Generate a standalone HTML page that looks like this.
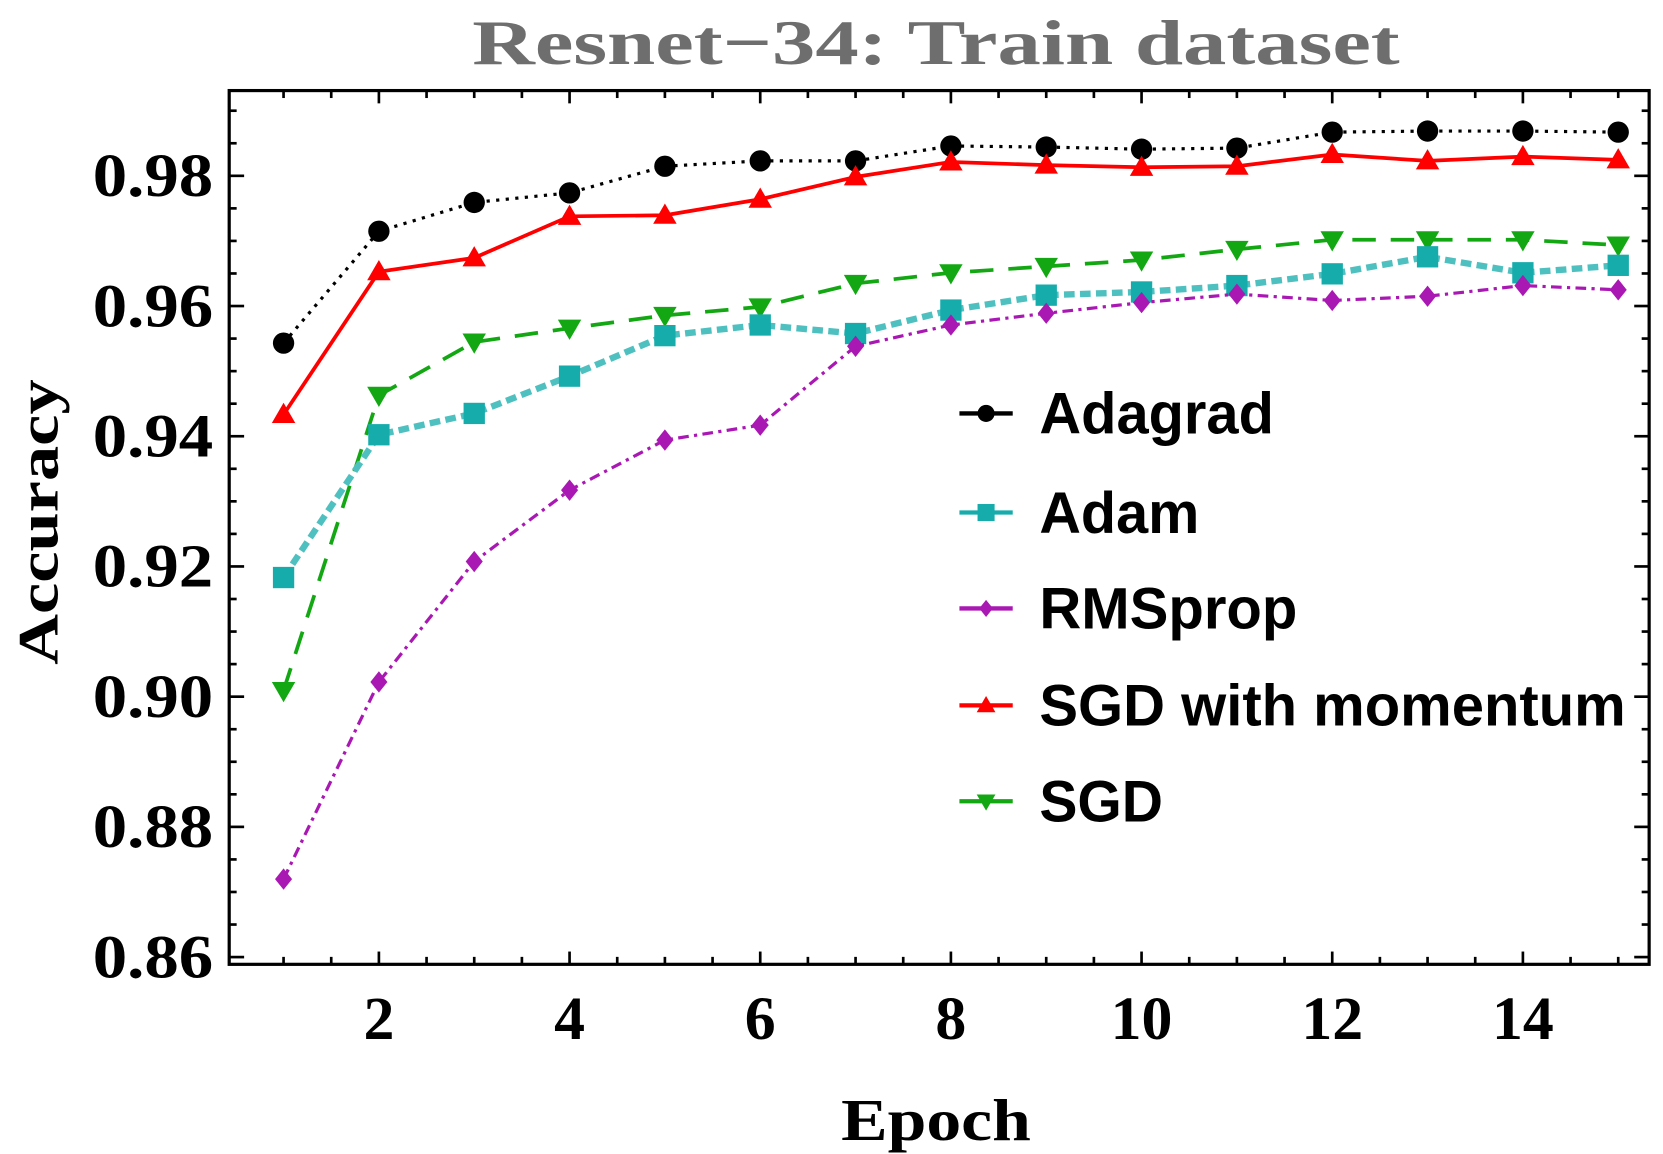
<!DOCTYPE html>
<html><head><meta charset="utf-8"><style>html,body{margin:0;padding:0;background:#fff}svg{display:block}</style></head>
<body>
<svg id="s" width="1663" height="1154" viewBox="0 0 1560 1083" preserveAspectRatio="none" xmlns="http://www.w3.org/2000/svg">
<rect width="1560" height="1083" fill="#fff"/>
<text x="878" y="60" text-anchor="middle" font-family="Liberation Serif, serif" font-weight="bold" font-size="60" fill="#6e6e6e" textLength="870" lengthAdjust="spacingAndGlyphs">Resnet−34: Train dataset</text>
<g id="frame"></g>
<g id="series"></g>
<g font-family="Liberation Sans, sans-serif" font-weight="bold" font-size="55" fill="#000">
<text x="975" y="407" textLength="220" lengthAdjust="spacingAndGlyphs">Adagrad</text>
<text x="975" y="500" textLength="150" lengthAdjust="spacingAndGlyphs">Adam</text>
<text x="975" y="590" textLength="242" lengthAdjust="spacingAndGlyphs">RMSprop</text>
<text x="975" y="681" textLength="550" lengthAdjust="spacingAndGlyphs">SGD with momentum</text>
<text x="975" y="771" textLength="116" lengthAdjust="spacingAndGlyphs">SGD</text>
</g>
<g id="leg"></g>
<text x="878" y="1070" text-anchor="middle" font-family="Liberation Serif, serif" font-weight="bold" font-size="56" textLength="178" lengthAdjust="spacingAndGlyphs">Epoch</text>
<text transform="translate(54,490) rotate(-90)" text-anchor="middle" font-family="Liberation Serif, serif" font-weight="bold" font-size="54" textLength="268" lengthAdjust="spacingAndGlyphs">Accuracy</text>
</svg>
<script>
const NS="http://www.w3.org/2000/svg";
function el(p,t,a){const e=document.createElementNS(NS,t);for(const k in a)e.setAttribute(k,a[k]);p.appendChild(e);return e;}
const F=document.getElementById('frame'),S=document.getElementById('series'),L=document.getElementById('leg');
const X0=215,X1=1547,Y0=85,Y1=905;
const xe=e=>266+(e-1)*(1518-266)/14;
const yv=v=>165+(0.98-v)/0.02*122.2;
el(F,'rect',{x:X0,y:Y0,width:X1-X0,height:Y1-Y0,fill:'none',stroke:'#000','stroke-width':3});
for(let e=1;e<=15.5;e+=0.5){const x=xe(e);if(x>X1)break;const maj=(e%2===0);const len=maj?12:7;
el(F,'line',{x1:x,y1:Y1,x2:x,y2:Y1-len,stroke:'#000','stroke-width':2.5});
el(F,'line',{x1:x,y1:Y0,x2:x,y2:Y0+len,stroke:'#000','stroke-width':2.5});
if(maj){const t=el(F,'text',{x:x,y:975,'text-anchor':'middle','font-family':'Liberation Serif, serif','font-weight':'bold','font-size':58});t.textContent=e;}}
for(let i=0;i<=32;i++){const v=0.86+i*0.005;const y=yv(v);if(y<Y0)break;const maj=(i%4===0);const len=maj?14:7;
el(F,'line',{x1:X0,y1:y,x2:X0+len,y2:y,stroke:'#000','stroke-width':2.5});
el(F,'line',{x1:X1,y1:y,x2:X1-len,y2:y,stroke:'#000','stroke-width':2.5});
if(maj){const t=el(F,'text',{x:200,y:y+19,'text-anchor':'end','font-family':'Liberation Serif, serif','font-weight':'bold','font-size':58,textLength:113,lengthAdjust:'spacingAndGlyphs'});t.textContent=v.toFixed(2);}}
const data=[
{c:'#000',d:'3,6',w:3,m:'o',ys:[322,217,190,181,156,151,151,137,138,140,139,124,123,123,124],ly:388},
{c:'#fe0000',d:'',w:3.5,m:'t',ys:[389,255,242,203,202,187,166,152,155,157,156,145,151,147,150],ly:662},
{c:'#13a813',d:'22,14',w:3.5,m:'v',ys:[648,371,321,308,296,288,266,256,250,244,234,225,225,225,230],ly:752},
{c:'#4fc0c0',d:'10,5',w:6,m:'s',ys:[542,408,388,353,315,305,313,291,277,274,268,257,241,256,249],ly:481,mc:'#16acac'},
{c:'#aa18b4',d:'10,5,3,5',w:3,m:'d',ys:[825,640,527,460,413,399,325,305,294,284,276,282,278,268,272],ly:571}
];
function mk(g,m,x,y,c,s){s=s||1;
if(m==='o')el(g,'circle',{cx:x,cy:y,r:10*s,fill:c});
else if(m==='s')el(g,'rect',{x:x-10*s,y:y-10*s,width:20*s,height:20*s,fill:c});
else if(m==='t')el(g,'polygon',{points:`${x},${y-11*s} ${x-11*s},${y+8*s} ${x+11*s},${y+8*s}`,fill:c});
else if(m==='v')el(g,'polygon',{points:`${x},${y+11*s} ${x-11*s},${y-8*s} ${x+11*s},${y-8*s}`,fill:c});
else if(m==='d')el(g,'polygon',{points:`${x},${y-10*s} ${x+8*s},${y} ${x},${y+10*s} ${x-8*s},${y}`,fill:c});}
for(const s of data){const pts=s.ys.map((y,i)=>xe(i+1)+','+y).join(' ');
const a={points:pts,fill:'none',stroke:s.c,'stroke-width':s.w,'stroke-linejoin':'round'};if(s.d)a['stroke-dasharray']=s.d;
el(S,'polyline',a);s.ys.forEach((y,i)=>mk(S,s.m,xe(i+1),y,s.mc||s.c));
el(L,'line',{x1:900,y1:s.ly,x2:950,y2:s.ly,stroke:s.mc||s.c,'stroke-width':4});mk(L,s.m,925,s.ly,s.mc||s.c,0.8);}
</script>
</body></html>
